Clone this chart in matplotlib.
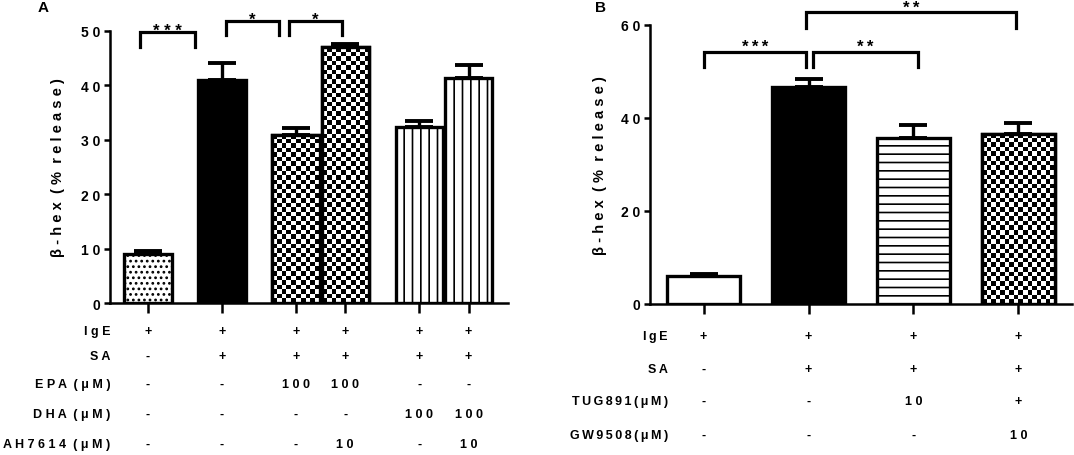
import numpy as np
import matplotlib
matplotlib.use("Agg")
import matplotlib.pyplot as plt

plt.rcParams['font.family'] = ['Liberation Sans', 'DejaVu Sans']
plt.rcParams['font.weight'] = 'bold'
plt.rcParams['hatch.linewidth'] = 1.2

# ---------------- data ----------------
a_pos = [0, 1.5, 3, 4, 5.5, 6.5]
a_vals = [9.0, 41.0, 30.9, 47.0, 32.3, 41.3]
a_err = [0.6, 3.2, 1.2, 0.6, 1.1, 2.5]
a_fill = ['dots', 'black', 'checker', 'checker', 'vlines', 'vlines']
a_row_labels = ["IgE", "SA", "EPA (μM)", "DHA (μM)", "AH7614 (μM)"]
a_rows = [
    ["+", "+", "+", "+", "+", "+"],
    ["-", "+", "+", "+", "+", "+"],
    ["-", "-", "100", "100", "-", "-"],
    ["-", "-", "-", "-", "100", "100"],
    ["-", "-", "-", "10", "-", "10"],
]
a_sig = [(-0.16, 0.95, 49.8, 47.0, "***"),
         (1.58, 2.66, 51.9, 49.3, "*"),
         (2.86, 3.94, 51.9, 49.3, "*")]

b_pos = [0, 1, 2, 3]
b_vals = [6.0, 46.7, 35.6, 36.6]
b_err = [0.4, 1.7, 3.0, 2.3]
b_fill = ['white', 'black', 'hlines', 'checker']
b_row_labels = ["IgE", "SA", "TUG891(μM)", "GW9508(μM)"]
b_rows = [
    ["+", "+", "+", "+"],
    ["-", "+", "+", "+"],
    ["-", "-", "10", "+"],
    ["-", "-", "-", "10"],
]
b_sig = [(0.0, 0.98, 54.3, 50.9, "***"),
         (1.04, 2.04, 54.3, 50.9, "**"),
         (0.98, 2.98, 62.7, 59.3, "**")]


def sp(s, gap=' '):
    # letter-spaced text, word gaps kept to one extra space
    return (gap + ' ').join(gap.join(w) for w in s.split(' '))


FS = 9
fig = plt.figure(figsize=(10.74, 4.56), dpi=100)
W, H = 1074, 456


def px_axes(l, r, t, b):
    return fig.add_axes([l / W, (H - b) / H, (r - l) / W, (b - t) / H])


def draw_panel(ax, pos, vals, err, fills, width, xlim, ylim, yticks, cell_px):
    ax.set_xlim(*xlim)
    ax.set_ylim(*ylim)
    for p, v, e, f in zip(pos, vals, err, fills):
        face = 'black' if f == 'black' else 'white'
        hatch = {'dots': '...', 'vlines': '||', 'hlines': '--'}.get(f)
        bar = ax.bar(p, v, width=width, color=face, edgecolor='black',
                     linewidth=2.4, hatch=hatch, zorder=3)[0]
        ax.errorbar(p, v, yerr=[[0], [e]], fmt='none', ecolor='black',
                    elinewidth=2.4, capsize=10, capthick=2.8, zorder=2)
        if f == 'checker':
            x0, y0 = bar.get_x(), bar.get_y()
            x1, y1 = x0 + bar.get_width(), y0 + bar.get_height()
            (dx0, dy0), (dx1, dy1) = ax.transData.transform([(x0, y0), (x1, y1)])
            nx = max(1, int(round((dx1 - dx0) / cell_px)))
            ny = max(1, int(round((dy1 - dy0) / cell_px)))
            pat = (np.add.outer(np.arange(ny), np.arange(nx)) % 2).astype(float)
            im = ax.imshow(pat, cmap='gray', extent=(x0, x1, y0, y1),
                           aspect='auto', interpolation='nearest', zorder=3.5,
                           origin='lower')
            im.set_clip_path(bar)
            ax.bar(p, v, width=width, color='none', edgecolor='black',
                   linewidth=2.4, zorder=4)
    ax.set_xlim(*xlim)
    ax.set_ylim(*ylim)
    ax.spines['top'].set_visible(False)
    ax.spines['right'].set_visible(False)
    for s in ('left', 'bottom'):
        ax.spines[s].set_linewidth(1.8)
    ax.set_xticks(pos)
    ax.set_xticklabels([])
    ax.set_yticks(yticks)
    ax.set_yticklabels([sp(str(t)) for t in yticks], fontsize=10, fontweight='bold')
    ax.tick_params(axis='x', length=7, width=1.8, direction='out')
    ax.tick_params(axis='y', length=4, width=1.8, pad=3)
    ax.set_ylabel(sp("β-hex (% release)"), fontsize=10.5, fontweight='bold')


def draw_sig(ax, sig, gap, offset_pt):
    for x0, x1, yt, yb, lab in sig:
        ax.plot([x0, x0, x1, x1], [yb, yt, yt, yb], color='black', lw=2.3,
                clip_on=False, solid_joinstyle='miter', zorder=5)
        ax.annotate(gap.join(lab), ((x0 + x1) / 2, yt), xytext=(0, offset_pt),
                    textcoords='offset points', ha='center', va='baseline',
                    fontsize=12, fontweight='bold', annotation_clip=False)


def draw_table(ax, pos, labels, rows, ys, label_x, label_gap):
    tr = ax.get_xaxis_transform()
    for lab, row, y in zip(labels, rows, ys):
        ax.text(label_x, y, sp(lab, label_gap), transform=tr, ha='right',
                va='center', fontsize=FS, fontweight='bold', clip_on=False)
        for p, v in zip(pos, row):
            ax.text(p, y, sp(v), transform=tr, ha='center', va='center',
                    fontsize=FS, fontweight='bold', clip_on=False)


# Panel A
axA = px_axes(110, 508, 32, 304)
draw_panel(axA, a_pos, a_vals, a_err, a_fill, 0.96, (-0.77, 7.3), (0, 50),
           [0, 10, 20, 30, 40, 50], 4.6)
draw_sig(axA, a_sig, ' ', -2.3)
draw_table(axA, a_pos, a_row_labels, a_rows,
           [-0.103, -0.195, -0.298, -0.408, -0.518], -0.755, ' ')
axA.yaxis.set_label_coords(-0.113, 0.5)

# Panel B
axB = px_axes(650, 1072, 26, 305)
draw_panel(axB, b_pos, b_vals, b_err, b_fill, 0.69, (-0.51, 3.51), (0, 60),
           [0, 20, 40, 60], 4.6)
draw_sig(axB, b_sig, '\u2009', 0.2)
draw_table(axB, b_pos, b_row_labels, b_rows,
           [-0.115, -0.233, -0.348, -0.47], -0.34, '\u2009')
axB.yaxis.set_label_coords(-0.102, 0.5)

fig.text(43 / W, 1 - 8 / H, "A", fontsize=11, fontweight='bold', ha='center', va='center')
fig.text(600 / W, 1 - 8 / H, "B", fontsize=11, fontweight='bold', ha='center', va='center')

fig.savefig("out.png", dpi=100)
